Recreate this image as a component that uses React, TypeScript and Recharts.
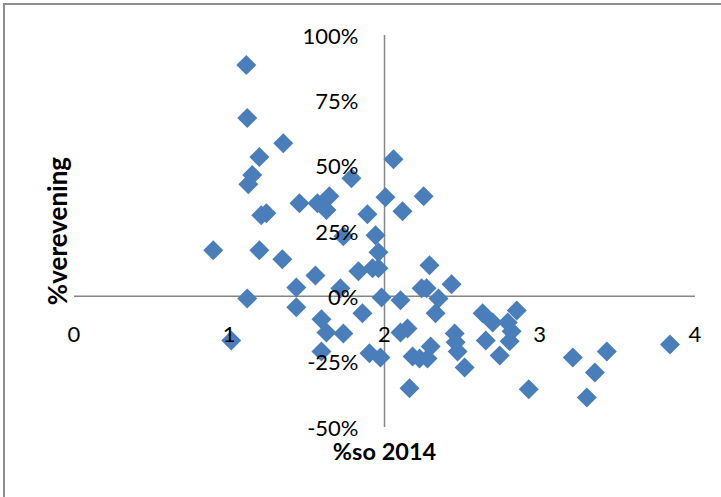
import React from 'react';
import {
	ReferenceLine,
	Scatter,
	ScatterChart,
	XAxis,
	YAxis,
} from 'recharts';

// %so 2014
const soValues = [
	1.11, 1.116, 1.348, 1.194, 1.148, 1.123, 2.058, 1.787, 1.452, 1.568,
	1.645, 1.626, 1.89, 2.006, 2.116, 2.252, 1.206, 1.239, 1.735, 1.942,
	0.897, 1.194, 1.342, 1.961, 1.555, 1.832, 1.923, 1.961, 2.29, 1.432,
	1.716, 1.116, 1.981, 2.103, 2.239, 2.271, 2.432, 2.348, 1.432, 2.329,
	1.858, 1.594, 2.632, 2.697, 2.852, 2.794, 2.819, 2.806, 1.626, 1.735,
	2.103, 2.148, 2.452, 2.458, 1.013, 2.652, 1.594, 1.903, 1.974, 2.181,
	2.226, 2.277, 2.297, 2.471, 2.516, 2.742, 2.161, 2.929, 3.213, 3.432,
	3.355, 3.303, 3.839,
];

// %verevening
const vereveningValues = [
	0.885, 0.682, 0.586, 0.533, 0.464, 0.429, 0.525, 0.452, 0.356, 0.356,
	0.383, 0.33, 0.314, 0.379, 0.326, 0.383, 0.31, 0.318, 0.23, 0.234,
	0.176, 0.176, 0.142, 0.169, 0.08, 0.096, 0.107, 0.107, 0.119, 0.034,
	0.031, -0.008, -0.004, -0.015, 0.031, 0.031, 0.046, -0.008, -0.042, -0.065,
	-0.065, -0.088, -0.065, -0.1, -0.054, -0.1, -0.134, -0.172, -0.138, -0.142,
	-0.138, -0.123, -0.142, -0.176, -0.169, -0.169, -0.211, -0.218, -0.234, -0.23,
	-0.238, -0.238, -0.192, -0.211, -0.272, -0.226, -0.352, -0.356, -0.234, -0.211,
	-0.291, -0.387, -0.184,
];

const xTicks = [0, 1, 2, 3, 4];
const yTicks = [-0.5, -0.25, 0, 0.25, 0.5, 0.75, 1];
const xTitle = '%so 2014';
const yTitle = '%verevening';

const W = 721;
const H = 497;
const M = { top: 35, right: 26, bottom: 69, left: 73 };
const AXIS_SIZE = 1;
const PLOT_L = M.left + AXIS_SIZE;
const PLOT_W = W - PLOT_L - M.right;
const PLOT_H = H - M.top - M.bottom - AXIS_SIZE;
const X_DOMAIN = [0, 4];
const Y_DOMAIN = [-0.5, 1];
const FONT = 'Lato, "Liberation Sans", sans-serif';

// where the axes cross (x = 2, y = 0)
const xCross = PLOT_L + ((2 - X_DOMAIN[0]) / (X_DOMAIN[1] - X_DOMAIN[0])) * PLOT_W;
const yCross = M.top + ((Y_DOMAIN[1] - 0) / (Y_DOMAIN[1] - Y_DOMAIN[0])) * PLOT_H;

const data = soValues.map((x, i) => ({ x, y: vereveningValues[i] }));

const renderXTick = (props: any) => {
	const { x, payload } = props;
	return (
		<text
			key={'x' + payload.value}
			x={x}
			y={yCross + 37}
			textAnchor="middle"
			dominantBaseline="central"
			fontFamily={FONT}
			fontSize={22}
			fill="#000"
		>
			{payload.value}
		</text>
	);
};

const renderYTick = (props: any) => {
	const { y, payload } = props;
	return (
		<text
			key={'y' + payload.value}
			x={xCross - 26}
			y={y}
			textAnchor="end"
			dominantBaseline="central"
			fontFamily={FONT}
			fontSize={22}
			fill="#000"
		>
			{Math.round(payload.value * 100) + '%'}
		</text>
	);
};

const Diamond = (props: any) => {
	const { cx, cy } = props;
	const r = 10;
	return (
		<polygon
			points={`${cx},${cy - r} ${cx + r},${cy} ${cx},${cy + r} ${cx - r},${cy}`}
			fill="#4a7ebb"
		/>
	);
};

export default function App() {
	return (
		<div
			style={{
				position: 'relative',
				width: W,
				height: H,
				overflow: 'hidden',
				background: '#fff',
			}}
		>
			<style>{'body{margin:0}'}</style>
			<div
				style={{
					position: 'absolute',
					left: 3,
					top: 3,
					width: W + 20,
					height: H + 20,
					borderTop: '2px solid #8e8e8e',
					borderLeft: '2px solid #8e8e8e',
				}}
			/>
			<div style={{ position: 'absolute', left: 0, top: 0 }}>
				<ScatterChart width={W} height={H} margin={M}>
					<XAxis
						type="number"
						dataKey="x"
						domain={X_DOMAIN}
						ticks={xTicks}
						interval={0}
						height={AXIS_SIZE}
						axisLine={false}
						tickLine={false}
						tick={renderXTick}
					/>
					<YAxis
						type="number"
						dataKey="y"
						domain={Y_DOMAIN}
						ticks={yTicks}
						interval={0}
						width={AXIS_SIZE}
						axisLine={false}
						tickLine={false}
						tick={renderYTick}
					/>
					<ReferenceLine y={0} stroke="#868686" strokeWidth={1.5} />
					<ReferenceLine x={2} stroke="#868686" strokeWidth={1.5} />
					<Scatter data={data} shape={<Diamond />} isAnimationActive={false} />
				</ScatterChart>
			</div>
			<div
				style={{
					position: 'absolute',
					left: xCross - 100,
					width: 200,
					top: 437,
					textAlign: 'center',
					fontFamily: FONT,
					fontWeight: 700,
					fontSize: 23.5,
					lineHeight: '28px',
				}}
			>
				{xTitle}
			</div>
			<div
				style={{
					position: 'absolute',
					left: 57 - 100,
					top: 231 - 14,
					width: 200,
					textAlign: 'center',
					fontFamily: FONT,
					fontWeight: 700,
					fontSize: 26,
					lineHeight: '28px',
					transform: 'rotate(-90deg)',
				}}
			>
				{yTitle}
			</div>
		</div>
	);
}
